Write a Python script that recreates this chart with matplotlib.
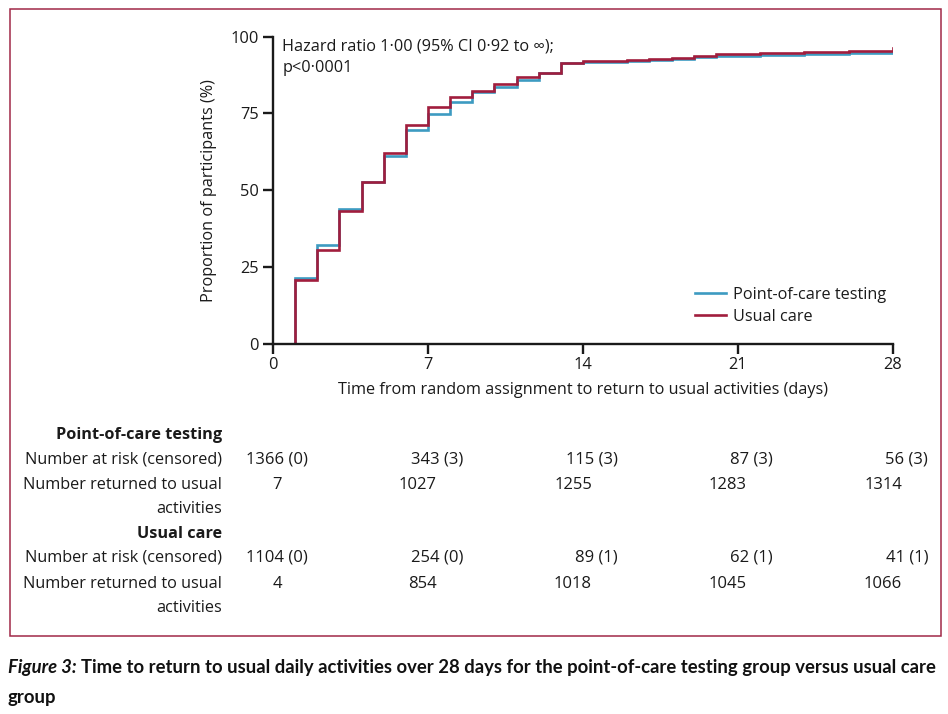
import matplotlib
matplotlib.use("Agg")
import matplotlib.pyplot as plt
from matplotlib.patches import Rectangle
from matplotlib.lines import Line2D

# ---------------- data ----------------
days = list(range(29))
poc_pct = [0, 21.2, 32.2, 44.0, 52.6, 61.2, 69.6, 74.8, 78.8, 81.9, 83.7, 85.9, 88.3, 91.3,
           91.7, 91.9, 92.1, 92.4, 92.8, 93.3, 93.7, 93.7, 94.0, 94.1, 94.3, 94.3, 94.6, 94.6, 94.6]
uc_pct = [0, 20.8, 30.6, 43.1, 52.6, 62.1, 71.2, 77.1, 80.4, 82.3, 84.6, 86.9, 88.3, 91.3,
          92.0, 92.0, 92.5, 92.8, 93.1, 93.8, 94.3, 94.3, 94.6, 94.6, 95.0, 95.0, 95.3, 95.3, 96.2]

table_days = [0, 7, 14, 21, 28]
poc_at_risk = ["1366 (0)", "343 (3)", "115 (3)", "87 (3)", "56 (3)"]
poc_returned = ["7", "1027", "1255", "1283", "1314"]
uc_at_risk = ["1104 (0)", "254 (0)", "89 (1)", "62 (1)", "41 (1)"]
uc_returned = ["4", "854", "1018", "1045", "1066"]

x_ticks = [0, 7, 14, 21, 28]
y_ticks = [0, 25, 50, 75, 100]
series_labels = ["Point-of-care testing", "Usual care"]

# ---------------- style ----------------
FONT = ["Open Sans", "DejaVu Sans"]
CAP_FONT = ["Lato", "DejaVu Sans"]
plt.rcParams["font.family"] = FONT
BLUE = "#3d9bc1"
RED = "#a11d3d"
FRAME = "#a02848"
TXT = "#1a1a1a"
W, H = 948, 714

fig = plt.figure(figsize=(W / 100, H / 100), dpi=100)

def fx(px):
    return px / W

def fy(py):
    return 1 - py / H

ax = fig.add_axes([fx(273), fy(343.5), fx(893) - fx(273), fy(36.7) - fy(343.5)])

ax.plot(days, poc_pct, drawstyle="steps-post", color=BLUE, lw=1.9, solid_joinstyle="miter")
ax.plot(days, uc_pct, drawstyle="steps-post", color=RED, lw=1.9, solid_joinstyle="miter")

ax.set_xlim(0, 28)
ax.set_ylim(0, 100)
ax.set_xticks(x_ticks)
ax.set_yticks(y_ticks)
for s in ["top", "right"]:
    ax.spines[s].set_visible(False)
for s in ["left", "bottom"]:
    ax.spines[s].set_linewidth(1.7)
    ax.spines[s].set_color("#1a1a1a")
ax.tick_params(axis="both", direction="out", length=7, width=1.7, color="#1a1a1a",
               labelsize=11.8, labelcolor=TXT, pad=3)
ax.set_xlabel("Time from random assignment to return to usual activities (days)",
              fontsize=11.7, color=TXT, labelpad=6)
ax.set_ylabel("Proportion of participants (%)", fontsize=11.7, color=TXT, labelpad=10)

ax.text(0.015, 0.995, "Hazard ratio 1\u00b700 (95% CI 0\u00b792 to \u221e);\np<0\u00b70001",
        transform=ax.transAxes, ha="left", va="top", fontsize=11.7, color=TXT,
        linespacing=1.45)

handles = [Line2D([], [], color=BLUE, lw=1.9), Line2D([], [], color=RED, lw=1.9)]
ax.legend(handles, series_labels, loc="lower right", bbox_to_anchor=(1.0, 0.039),
          frameon=False, fontsize=11.7, handlelength=1.9, handletextpad=0.45,
          labelspacing=0.38, borderaxespad=0.0, labelcolor=TXT)

# ---------------- risk table ----------------
label_x = fx(222)

def row_label(text, py, bold=False):
    fig.text(label_x, fy(py), text, ha="right", va="center", fontsize=11.7,
             color=TXT, fontweight="bold" if bold else "normal")

def row_values(values, py, offset_px):
    for d, v in zip(table_days, values):
        ax.annotate(v, xy=(d, fy(py)), xycoords=(ax.transData, fig.transFigure),
                    xytext=(offset_px * 0.72, 0), textcoords="offset points",
                    ha="right", va="center", fontsize=12, color=TXT,
                    annotation_clip=False)

row_label("Point-of-care testing", 435, bold=True)
row_label("Number at risk (censored)", 459)
row_label("Number returned to usual", 485)
row_label("activities", 509)
row_label("Usual care", 534, bold=True)
row_label("Number at risk (censored)", 558)
row_label("Number returned to usual", 584)
row_label("activities", 608)

row_values(poc_at_risk, 459, 35)
row_values(poc_returned, 485, 9)
row_values(uc_at_risk, 558, 35)
row_values(uc_returned, 584, 9)

# ---------------- frame and caption ----------------
fig.patches.append(Rectangle((fx(9.5), fy(636)), fx(941) - fx(9.5), fy(9.5) - fy(636),
                             transform=fig.transFigure, fill=False, edgecolor=FRAME,
                             lw=1.1))

cap_size = 14.0
t1 = fig.text(fx(8), fy(668), "Figure 3: ", ha="left", va="center", fontsize=cap_size,
              fontweight="bold", fontstyle="italic", color="#111111", family=CAP_FONT)
t2 = fig.text(fx(8), fy(668),
              "Time to return to usual daily activities over 28 days for the point-of-care testing group versus usual care",
              ha="left", va="center", fontsize=cap_size, fontweight="bold", color="#111111",
              family=CAP_FONT)
t3 = fig.text(fx(8), fy(697), "group", ha="left", va="center", fontsize=cap_size,
              fontweight="bold", color="#111111", family=CAP_FONT)

renderer = fig.canvas.get_renderer()
target_right = 938.0
for _ in range(4):
    w1 = t1.get_window_extent(renderer).width
    w2 = t2.get_window_extent(renderer).width
    total = w1 + w2
    cap_size *= (target_right - 8) / total
    for t in (t1, t2, t3):
        t.set_fontsize(cap_size)
w1 = t1.get_window_extent(renderer).width
t2.set_x(fx(8 + w1))

fig.savefig("out.png", dpi=100)
